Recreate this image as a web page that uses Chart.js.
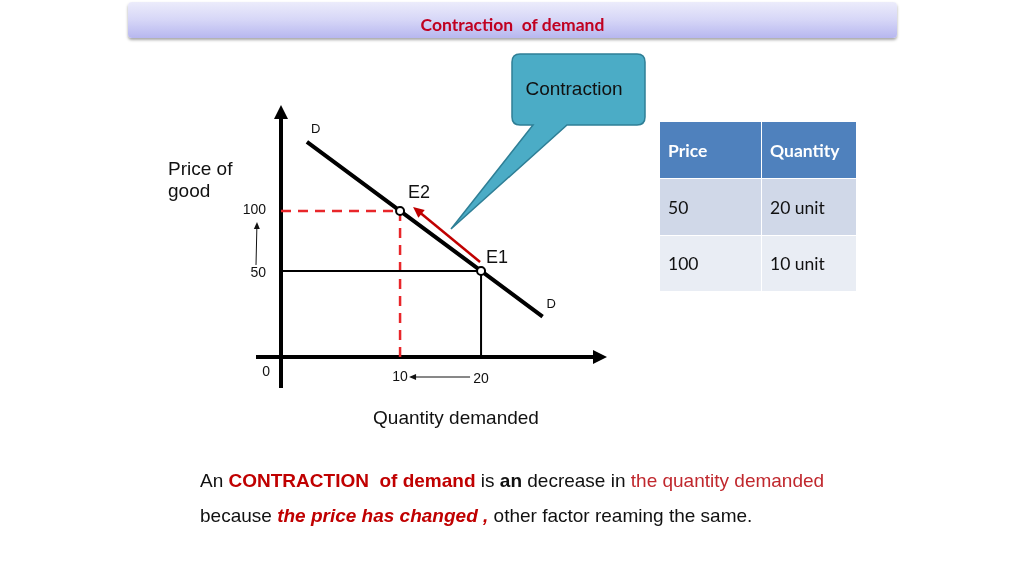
<!DOCTYPE html>
<html>
<head>
<meta charset="utf-8">
<script src="https://cdn.jsdelivr.net/npm/chart.js@4"></script>
<style>
  html, body { margin:0; padding:0; background:#fff; width:1024px; height:575px; overflow:hidden; }
  #wrap { position:absolute; left:0; top:0; width:1024px; height:575px; }
  #titlebar { position:absolute; left:128px; top:2px; width:769px; height:36px; border-radius:4px;
    background:linear-gradient(#ececfb, #d6d6f7 50%, #b7b7ef);
    box-shadow:0 2px 3px rgba(0,0,0,0.35); }
  #titlebar span { position:absolute; left:0; right:0; top:12px; text-align:center;
    font:bold 17.5px Lato, "Open Sans", sans-serif; color:#c00020; white-space:pre; }
  #callout { position:absolute; left:0; top:0; }
  #ctext { position:absolute; left:505px; top:78px; width:138px; text-align:center;
    font:19px "Liberation Sans", Arial, sans-serif; color:#111; }
  table { position:absolute; left:659px; top:121px; border-collapse:collapse; font:17.5px Lato, sans-serif; }
  td, th { padding:0 0 0 8px; text-align:left; border:1px solid #fff; }
  th { background:#4f81bd; color:#fff; font-weight:bold; height:56px; }
  tr.r1 td { background:#d0d8e8; height:56px; color:#111; }
  tr.r2 td { background:#e9edf4; height:55px; color:#111; }
  .txt { position:absolute; left:200px; font:19px "Liberation Sans", Arial, sans-serif; color:#111; white-space:pre; }
  .red { color:#c00000; }
  .red2 { color:#c0272d; }
  .b { font-weight:bold; }
  .bi { font-weight:bold; font-style:italic; }
</style>
</head>
<body>
<div id="wrap">
  <canvas id="c" width="1024" height="575"></canvas>
  <div id="titlebar"><span>Contraction  of demand</span></div>
  <svg id="callout" width="1024" height="575">
    <path d="M520,54 H637 Q645,54 645,62 V117 Q645,125 637,125 H567 L451,229 L533,125 H520 Q512,125 512,117 V62 Q512,54 520,54 Z"
      fill="#4bacc6" stroke="#2f7f96" stroke-width="1.5"/>
  </svg>
  <div id="ctext">Contraction</div>
  <table>
    <tr><th style="width:93px">Price</th><th style="width:86px">Quantity</th></tr>
    <tr class="r1"><td>50</td><td>20 unit</td></tr>
    <tr class="r2"><td>100</td><td>10 unit</td></tr>
  </table>
  <div class="txt" style="top:470px">An <span class="red b">CONTRACTION  of demand</span> is <span class="b">an</span> decrease in <span class="red2">the quantity demanded</span></div>
  <div class="txt" style="top:505px">because <span class="red bi">the price has changed ,</span> other factor reaming the same.</div>
</div>
<script>
// ---- data ----
const quantityTicks = [10, 20];
const priceTicks = [50, 100];
const demandQ = [-1.5, 10, 20, 27.6];
const demandP = [157.5, 100, 50, 12];
const e1 = { q: 20, p: 50 };
const e2 = { q: 10, p: 100 };
// schematic axis range (diagram is not drawn to scale)
const qRange = [-4.7, 35.55];
const pRange = [-21.7, 188.3];

const pts = (qs, ps) => qs.map((q, i) => ({ x: q, y: ps[i] }));

const font = '"Liberation Sans", Arial, sans-serif';

function arrowHead(ctx, x1, y1, x2, y2, len, half) {
  const a = Math.atan2(y2 - y1, x2 - x1);
  ctx.beginPath();
  ctx.moveTo(x2, y2);
  ctx.lineTo(x2 - len * Math.cos(a) + half * Math.sin(a), y2 - len * Math.sin(a) - half * Math.cos(a));
  ctx.lineTo(x2 - len * Math.cos(a) - half * Math.sin(a), y2 - len * Math.sin(a) + half * Math.cos(a));
  ctx.closePath();
  ctx.fill();
}
function arrow(ctx, x1, y1, x2, y2, w, color, len, half) {
  ctx.save();
  ctx.strokeStyle = color; ctx.fillStyle = color; ctx.lineWidth = w;
  const a = Math.atan2(y2 - y1, x2 - x1);
  ctx.beginPath(); ctx.moveTo(x1, y1);
  ctx.lineTo(x2 - (len * 0.8) * Math.cos(a), y2 - (len * 0.8) * Math.sin(a));
  ctx.stroke();
  arrowHead(ctx, x1, y1, x2, y2, len, half);
  ctx.restore();
}

const decor = {
  id: 'decor',
  beforeDatasetsDraw(chart) {
    const { ctx, scales: { x, y }, chartArea: ca } = chart;
    const x0 = x.getPixelForValue(qRange[0]);
    const y0 = y.getPixelForValue(pRange[0]);
    ctx.save();
    ctx.strokeStyle = '#000'; ctx.fillStyle = '#000'; ctx.lineWidth = 4;
    ctx.beginPath(); ctx.moveTo(x0, y0 + 31); ctx.lineTo(x0, ca.top + 10); ctx.stroke();
    arrowHead(ctx, x0, y0, x0, ca.top, 14, 7);
    ctx.beginPath(); ctx.moveTo(x0 - 25, y0); ctx.lineTo(ca.right - 10, y0); ctx.stroke();
    arrowHead(ctx, x0, y0, ca.right, y0, 14, 7);
    ctx.restore();
  },
  afterDatasetsDraw(chart) {
    const { ctx, scales: { x, y } } = chart;
    const x0 = x.getPixelForValue(qRange[0]);
    const y0 = y.getPixelForValue(pRange[0]);
    ctx.save();
    ctx.fillStyle = '#111';
    ctx.font = '14px ' + font;
    ctx.textBaseline = 'middle';
    // x tick labels
    ctx.textAlign = 'center';
    quantityTicks.forEach((q, i) => ctx.fillText(String(q), x.getPixelForValue(q), y0 + 20 + i * 2));
    // y tick labels
    ctx.textAlign = 'right';
    priceTicks.forEach((p, i) => ctx.fillText(String(p), x0 - 15, y.getPixelForValue(p) + (i === 0 ? 2 : -1)));
    // origin
    ctx.fillText('0', x0 - 11, y0 + 15);
    // demand labels
    ctx.textAlign = 'left';
    ctx.font = '13px ' + font;
    const dS = { x: x.getPixelForValue(demandQ[0]), y: y.getPixelForValue(demandP[0]) };
    const dE = { x: x.getPixelForValue(demandQ[3]), y: y.getPixelForValue(demandP[3]) };
    ctx.fillText('D', dS.x + 4, dS.y - 13);
    ctx.fillText('D', dE.x + 4, dE.y - 12);
    // E labels
    ctx.font = '18px ' + font;
    const e1p = { x: x.getPixelForValue(e1.q), y: y.getPixelForValue(e1.p) };
    const e2p = { x: x.getPixelForValue(e2.q), y: y.getPixelForValue(e2.p) };
    ctx.fillText('E2', e2p.x + 8, e2p.y - 18);
    ctx.fillText('E1', e1p.x + 5, e1p.y - 13);
    // axis titles
    ctx.font = '19px ' + font;
    ctx.fillText('Price of', 168, 170);
    ctx.fillText('good', 168, 192);
    ctx.textAlign = 'center';
    ctx.fillText('Quantity demanded', 456, y0 + 62);
    ctx.restore();
    // movement arrow (red) from E1 towards E2
    arrow(ctx, e1p.x - 1, e1p.y - 9, e2p.x + 13, e2p.y - 4, 2.5, '#c00000', 11, 5);
    // small arrows
    arrow(ctx, x.getPixelForValue(quantityTicks[1]) - 11, y0 + 20, x.getPixelForValue(quantityTicks[0]) + 9, y0 + 20, 1, '#111', 7, 3);
    arrow(ctx, x0 - 25, y.getPixelForValue(priceTicks[0]) - 6, x0 - 24, y.getPixelForValue(priceTicks[1]) + 11, 1, '#111', 7, 3);
  }
};

new Chart(document.getElementById('c'), {
  type: 'line',
  data: {
    datasets: [
      { data: [{ x: qRange[0], y: e2.p }, { x: e2.q, y: e2.p }, { x: e2.q, y: pRange[0] }],
        borderColor: '#e8262a', borderWidth: 2.5, borderDash: [10, 7], pointRadius: 0, fill: false, order: 4 },
      { data: [{ x: qRange[0], y: e1.p }, { x: e1.q, y: e1.p }, { x: e1.q, y: pRange[0] }],
        borderColor: '#000', borderWidth: 2, pointRadius: 0, fill: false, order: 3 },
      { data: pts(demandQ, demandP),
        borderColor: '#000', borderWidth: 4, pointRadius: 0, fill: false, order: 2, borderCapStyle: 'butt' },
      { data: [{ x: e2.q, y: e2.p }, { x: e1.q, y: e1.p }], showLine: false,
        pointRadius: 4, pointBackgroundColor: '#fff', pointBorderColor: '#000', pointBorderWidth: 2, order: 1 }
    ]
  },
  options: {
    responsive: false,
    devicePixelRatio: 1,
    animation: false,
    events: [],
    layout: { padding: { left: 281, top: 105, right: 417, bottom: 218 } },
    plugins: { legend: { display: false }, tooltip: { enabled: false } },
    scales: {
      x: { type: 'linear', min: qRange[0], max: qRange[1], display: false },
      y: { type: 'linear', min: pRange[0], max: pRange[1], display: false }
    },
    elements: { line: { tension: 0 } }
  },
  plugins: [decor]
});
</script>
</body>
</html>
